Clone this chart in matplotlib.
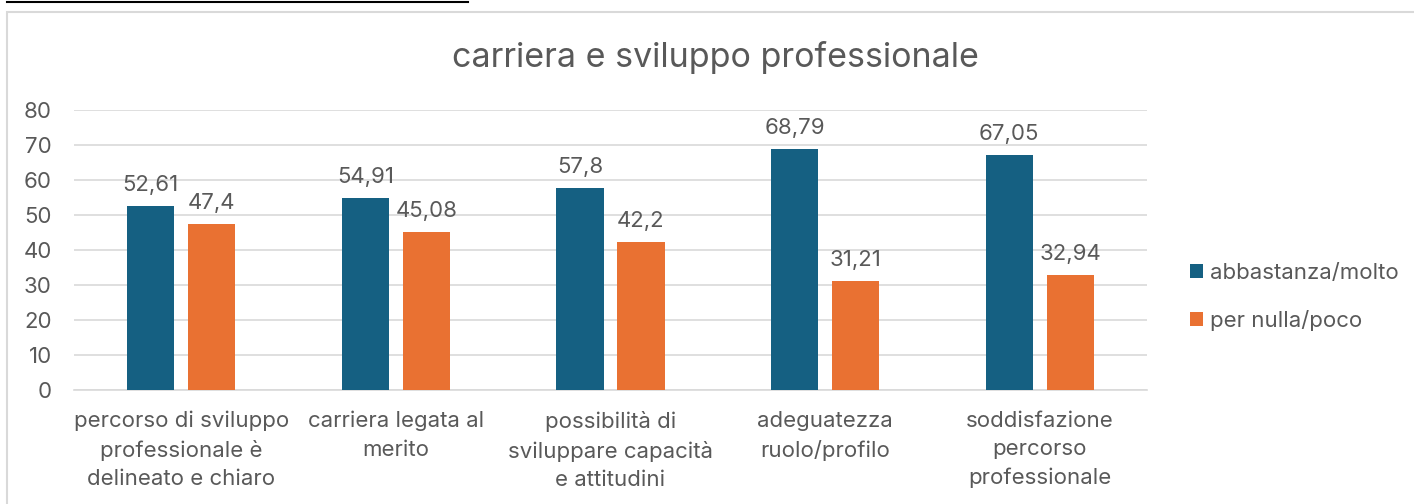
import numpy as np
import matplotlib.pyplot as plt
from matplotlib.patches import Rectangle
from matplotlib.lines import Line2D

categories = [
    "percorso di sviluppo\nprofessionale è\ndelineato e chiaro",
    "carriera legata al\nmerito",
    "possibilità di\nsviluppare capacità\ne attitudini",
    "adeguatezza\nruolo/profilo",
    "soddisfazione\npercorso\nprofessionale",
]
abbastanza_molto = [52.61, 54.91, 57.8, 68.79, 67.05]
per_nulla_poco = [47.4, 45.08, 42.2, 31.21, 32.94]
series_names = ["abbastanza/molto", "per nulla/poco"]

BLUE = "#156082"
ORANGE = "#E97132"
TEXT = "#595959"
FS = 16

plt.rcParams['font.family'] = ['Inter', 'DejaVu Sans']

fig = plt.figure(figsize=(14.14, 5.04), dpi=100)

# chart frame and the cut line above it
fig.patches.append(Rectangle((7 / 1414, -0.1), 1.2, 1 - 12 / 504 + 0.1,
                             transform=fig.transFigure, fill=False,
                             edgecolor="#D9D9D9", linewidth=1.5))
fig.lines.append(Line2D([7 / 1414, 468 / 1414], [1 - 2 / 504, 1 - 2 / 504],
                        transform=fig.transFigure, color="black", linewidth=1.5))

ax = fig.add_axes([74 / 1414, 1 - 390 / 504, (1147 - 74) / 1414, 280 / 504])

x = np.arange(len(categories))
w = 0.22
off = 0.142
b1 = ax.bar(x - off, abbastanza_molto, w, color=BLUE, label=series_names[0], zorder=3)
b2 = ax.bar(x + off, per_nulla_poco, w, color=ORANGE, label=series_names[1], zorder=3)

for bars in (b1, b2):
    for r in bars:
        v = r.get_height()
        ax.annotate(f"{v:g}".replace(".", ","),
                    (r.get_x() + r.get_width() / 2, v),
                    xytext=(0, 8), textcoords="offset points",
                    ha="center", va="bottom", fontsize=FS, color=TEXT)

ax.set_xlim(-0.5, len(categories) - 0.5)
ax.set_ylim(0, 80)
ax.set_yticks(range(0, 81, 10))
ax.yaxis.grid(True, color="#D9D9D9", linewidth=1.2, zorder=0)
ax.set_axisbelow(True)
for s in ax.spines.values():
    s.set_visible(False)
ax.spines['bottom'].set_visible(True)
ax.spines['bottom'].set_color("#D9D9D9")
ax.spines['bottom'].set_linewidth(1.2)

ax.set_xticks(x)
ax.set_xticklabels(categories, fontsize=FS, color=TEXT, linespacing=1.52)
ax.tick_params(axis='x', length=0, pad=15)
ax.tick_params(axis='y', length=0, pad=16, labelsize=FS, labelcolor=TEXT)

fig.text(715 / 1414, 1 - 57 / 504, "carriera e sviluppo professionale",
         ha="center", va="center", fontsize=24.5, color=TEXT)

leg = fig.legend(handles=[b1, b2], labels=series_names,
                 loc="center left", bbox_to_anchor=(1170 / 1414, 1 - 297 / 504),
                 frameon=False, fontsize=FS, labelspacing=1.2,
                 handlelength=0.6, handleheight=0.6, handletextpad=0.3)
for t in leg.get_texts():
    t.set_color(TEXT)

fig.savefig("out.png", dpi=100)
